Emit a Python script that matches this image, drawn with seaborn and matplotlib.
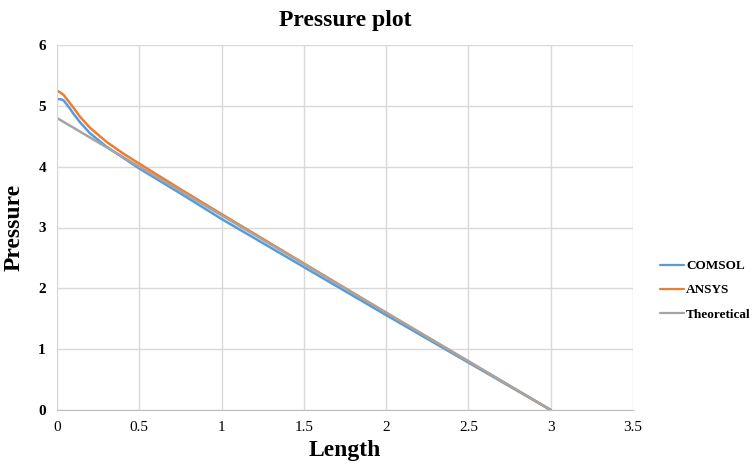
import numpy as np
import pandas as pd
import matplotlib
matplotlib.use("Agg")
import matplotlib.pyplot as plt
import seaborn as sns

# data
length = [0.0, 0.02, 0.04, 0.06, 0.08, 0.1, 0.14, 0.2, 0.3, 0.4, 0.5, 0.75, 1.0, 1.5, 2.0, 2.5, 3.0]
comsol = [5.11, 5.11, 5.09, 5.02, 4.95, 4.87, 4.73, 4.55, 4.33, 4.15, 3.97, 3.56, 3.14, 2.35, 1.56, 0.78, 0.0]
ansys = [5.25, 5.22, 5.18, 5.11, 5.04, 4.97, 4.82, 4.64, 4.41, 4.22, 4.05, 3.63, 3.22, 2.41, 1.60, 0.80, 0.0]
theo_len = [0.0, 3.0]
theoretical = [4.8, 0.0]

df = pd.concat([
    pd.DataFrame({"Length": length, "Pressure": comsol, "series": "COMSOL"}),
    pd.DataFrame({"Length": length, "Pressure": ansys, "series": "ANSYS"}),
    pd.DataFrame({"Length": theo_len, "Pressure": theoretical, "series": "Theoretical"}),
])

sns.set_style("white")
plt.rcParams["font.family"] = ["Liberation Serif", "DejaVu Serif"]
plt.rcParams["text.color"] = "black"
plt.rcParams["axes.labelcolor"] = "black"
plt.rcParams["xtick.color"] = "black"
plt.rcParams["ytick.color"] = "black"

fig = plt.figure(figsize=(7.54, 4.72), dpi=100)
ax = fig.add_axes([57 / 754, 62 / 472, 576 / 754, 365 / 472])

palette = {"COMSOL": "#5B9BD5", "ANSYS": "#ED7D31", "Theoretical": "#A5A5A5"}
sns.lineplot(data=df, x="Length", y="Pressure", hue="series", palette=palette,
             linewidth=1.8, ax=ax, sort=True, estimator=None)

ax.set_xlim(0, 3.5)
ax.set_ylim(0, 6)
ax.set_xticks(np.arange(0, 3.51, 0.5))
ax.set_xticklabels(["0", "0.5", "1", "1.5", "2", "2.5", "3", "3.5"], fontsize=11)
ax.set_yticks(range(0, 7))
ax.set_yticklabels([str(i) for i in range(7)], fontsize=11, fontweight="bold")
ax.tick_params(axis="both", length=0, pad=8)

ax.grid(True, color="#d9d9d9", linewidth=1)
for s in ["top", "right"]:
    ax.spines[s].set_visible(False)
ax.spines["left"].set_color("#d9d9d9")
ax.spines["bottom"].set_color("#bfbfbf")

ax.set_xlabel("Length", fontsize=17, fontweight="bold", labelpad=4)
ax.set_ylabel("Pressure", fontsize=17, fontweight="bold", labelpad=10)
ax.set_title("Pressure plot", fontsize=17, fontweight="bold", pad=14)

leg = ax.legend(loc="center left", bbox_to_anchor=(648 / 754, 0.385),
                bbox_transform=fig.transFigure, frameon=False,
                prop={"weight": "bold", "size": 9.5}, handlelength=1.8,
                handletextpad=0.2, labelspacing=0.9)
for line in leg.get_lines():
    line.set_linewidth(1.6)

fig.savefig("out.png", dpi=100)
